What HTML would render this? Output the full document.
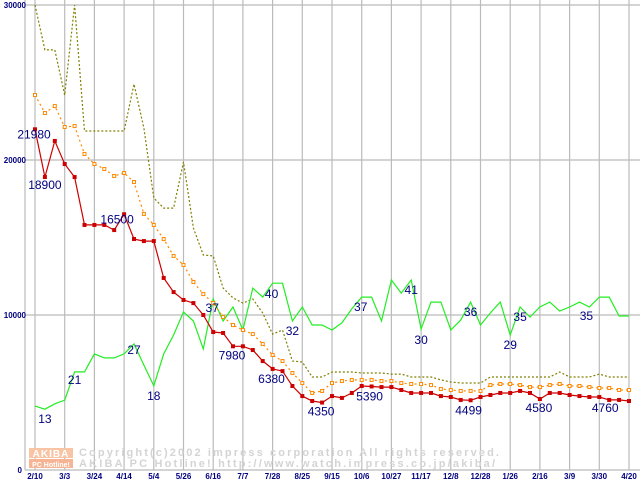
<!DOCTYPE html>
<html><head><meta charset="utf-8">
<style>
html,body{margin:0;padding:0;background:#fff;}
svg{display:block;}
text{font-family:"Liberation Sans",sans-serif;}
</style></head>
<body>
<svg id="chart" width="640" height="480" xmlns="http://www.w3.org/2000/svg"></svg>
<script>
const xLabels=["2/10","3/3","3/24","4/14","5/4","5/26","6/16","7/7","7/28","8/25","9/15","10/6","10/27","11/17","12/8","12/28","1/26","2/16","3/9","3/30","4/20"];
const yTicks=[0,10000,20000,30000];
const lowPrice=[21980,18900,21230,19740,18900,15810,15810,15810,15480,16500,14900,14770,14770,12390,11480,10970,10770,10000,8900,8840,7980,7980,7740,7030,6520,6380,5420,4770,4450,4350,4770,4650,4970,5420,5390,5350,5350,5160,4970,4970,4970,4770,4710,4520,4499,4710,4840,4970,4970,5100,4970,4580,4970,4970,4840,4770,4710,4710,4520,4520,4450];
const avgPrice=[24190,23030,23480,22130,22190,20390,19740,19420,18970,19160,18580,16520,15810,14900,13810,13230,12130,11350,10770,9870,9350,9030,8770,8130,7420,7030,6260,5610,4970,5100,5610,5740,5810,5810,5810,5740,5740,5610,5550,5550,5480,5230,5160,5100,5100,5100,5480,5550,5550,5480,5350,5350,5480,5550,5420,5420,5350,5290,5290,5160,5160];
const highPrice=[30000,27100,27100,24190,30000,21870,21870,21870,21870,21870,24900,22060,17550,16900,16900,19870,15610,13870,13810,11740,11100,10770,11030,10130,8770,9030,7030,6970,6000,6000,6320,6320,6320,6260,6260,6260,6190,6190,6000,6000,6000,5810,5680,5610,5610,5610,6000,6000,6000,6000,6000,6000,6000,6320,6000,6000,6000,6190,6000,6000,6000];
const shopCount=[13.1,12.4,13.6,14.4,20.7,20.7,24.7,23.8,23.8,24.7,26.9,22.2,17.6,24.7,28.9,34,32,25.8,36.9,32,35.1,30,39.3,37.3,40.4,40.4,32,35.1,31.1,31.1,30,31.6,34.7,37.3,37.3,32,41.1,38.2,41.1,30.2,36.2,36.2,30,32.2,36.2,31.1,33.8,36.2,28.9,35.1,32.9,35.1,36.2,34.2,35.1,36.2,35.1,37.3,37.3,33.1,33.1];
const priceLabels=[[0,"21980",-1,9],[1,"18900",0,12],[9,"16500",-7,9],[20,"7980",-1,13],[25,"6380",-11,12],[29,"4350",-1,13],[34,"5390",-2,14],[44,"4499",-2,14],[51,"4580",-1,13],[58,"4760",-4,12]];
const countLabels=[[1,"13",0,14],[4,"21",0,12],[10,"27",0,10],[12,"18",0,14],[18,"37",-1,13],[24,"40",-1,15],[26,"32",0,14],[33,"37",-1,14],[38,"41",0,14],[39,"30",0,15],[44,"36",0,14],[48,"29",0,14],[49,"35",0,14],[56,"35",-3,13]];

const svg=document.getElementById('chart');
const NS="http://www.w3.org/2000/svg";
const L=25,R=640,T=5,B=470,X0=35,X1=629;
const nPts=lowPrice.length;
function xi(i){return X0+i*(X1-X0)/(nPts-1);}
function yp(v){return B-Math.min(v,30000)/30000*(B-T);}
function yc(v){return 465-v*4.5;}
function mk(tag,attrs,parent){const e=document.createElementNS(NS,tag);for(const k in attrs)e.setAttribute(k,attrs[k]);(parent||svg).appendChild(e);return e;}

// grid
const grid=mk('g',{});


yTicks.forEach(v=>{mk('line',{x1:L,x2:R,y1:yp(v),y2:yp(v),stroke:'#bbbbbb','stroke-width':1.2},grid);});
mk('line',{x1:L,x2:L,y1:0,y2:B,stroke:'#bbbbbb','stroke-width':1.2},grid);
xLabels.forEach((s,k)=>{const x=X0+k*(X1-X0)/(xLabels.length-1);mk('line',{x1:x,x2:x,y1:0,y2:B,stroke:'#bbbbbb','stroke-width':1.2},grid);});

// watermark
const wm=mk('g',{});


mk('rect',{x:29,y:448,width:44,height:10,fill:'#f8c4a4'},wm);
mk('rect',{x:29,y:459,width:44,height:9,fill:'#f6b494'},wm);
let t=mk('text',{x:51,y:457,'font-size':10,'font-weight':'bold',fill:'#fff','text-anchor':'middle','letter-spacing':1},wm);t.textContent='AKIBA';
t=mk('text',{x:51,y:467,'font-size':7,'font-weight':'bold',fill:'#fff','text-anchor':'middle'},wm);t.textContent='PC Hotline!';
t=mk('text',{x:79,y:456,'font-size':11,'font-weight':'bold',fill:'#d4d4d4','font-family':'Liberation Mono, monospace',textLength:420,lengthAdjust:'spacing'},wm);t.textContent='Copyright(c)2002 impress corporation All rights reserved.';
t=mk('text',{x:79,y:467,'font-size':11,'font-weight':'bold',fill:'#d4d4d4','font-family':'Liberation Mono, monospace',textLength:416,lengthAdjust:'spacing'},wm);t.textContent='AKIBA PC Hotline!  http://www.watch.impress.co.jp/akiba/';

// axis labels
yTicks.forEach(v=>{const e=mk('text',{x:v===0?22:26,y:yp(v)+3,'font-size':8,'font-weight':'bold',fill:'#000080','text-anchor':'end'});


e.textContent=String(v);});
xLabels.forEach((s,k)=>{const x=X0+k*(X1-X0)/(xLabels.length-1);const e=mk('text',{x:x,y:479,'font-size':8,'font-weight':'bold',fill:'#000080','text-anchor':'middle'});


e.textContent=s;});

function pts(arr,f){return arr.map((v,i)=>xi(i).toFixed(1)+','+f(v).toFixed(1)).join(' ');}
let p;
p=mk('polyline',{points:pts(highPrice,yp),fill:'none',stroke:'#808000','stroke-width':1.2,'stroke-dasharray':'2,2'});


p=mk('polyline',{points:pts(shopCount,yc),fill:'none',stroke:'#22ee22','stroke-width':1.2});


p=mk('polyline',{points:pts(avgPrice,yp),fill:'none',stroke:'#ff8800','stroke-width':1.2,'stroke-dasharray':'2,3'});


avgPrice.forEach((v,i)=>{const r=mk('rect',{x:xi(i)-1.5,y:yp(v)-1.5,width:3,height:3,fill:'#fff',stroke:'#ff8800','stroke-width':1});

});
p=mk('polyline',{points:pts(lowPrice,yp),fill:'none',stroke:'#cc0000','stroke-width':1.2});


lowPrice.forEach((v,i)=>{const r=mk('rect',{x:xi(i)-2,y:yp(v)-2,width:4,height:4,fill:'#cc0000'});

});

priceLabels.forEach(a=>{const e=mk('text',{x:xi(a[0])+a[2],y:yp(lowPrice[a[0]])+a[3],'font-size':12,fill:'#000080','text-anchor':'middle'});


e.textContent=a[1];});
countLabels.forEach(a=>{const e=mk('text',{x:xi(a[0])+a[2],y:yc(shopCount[a[0]])+a[3],'font-size':12,fill:'#000080','text-anchor':'middle'});


e.textContent=a[1];});
</script>
</body></html>
